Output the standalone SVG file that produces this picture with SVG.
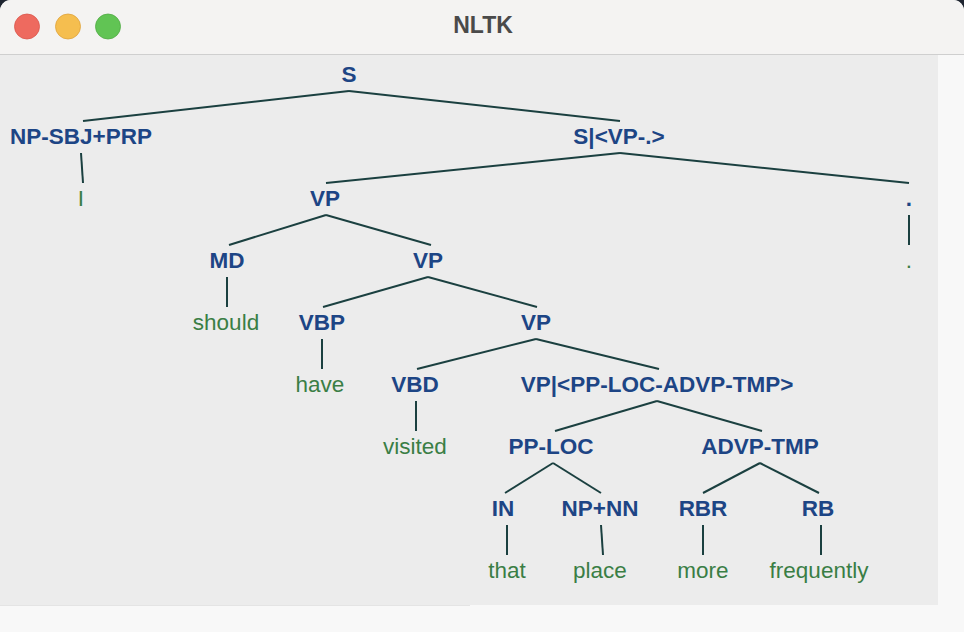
<svg xmlns="http://www.w3.org/2000/svg" width="964" height="632" viewBox="0 0 964 632">
<style>
.nt{font-family:"Liberation Sans",Arial,sans-serif;font-weight:bold;font-size:22.5px;fill:#1d4585;text-anchor:middle}
.lf{font-family:"Liberation Sans",Arial,sans-serif;font-size:22.5px;fill:#3a7e45;text-anchor:middle}
.ln line{stroke:#1b4040;stroke-width:2;stroke-linecap:butt}
</style>
<rect width="964" height="632" fill="#1e2430"/>
<rect x="0" y="0" width="964" height="640" rx="11" fill="#ececec"/>
<path d="M0,54 V11 A11,11 0 0 1 11,0 H953 A11,11 0 0 1 964,11 V54 Z" fill="#f4f3f2"/>
<line x1="0" y1="54.5" x2="964" y2="54.5" stroke="#cfcfcf" stroke-width="1"/>
<rect x="938" y="55" width="26" height="577" fill="#f8f8f8"/>
<rect x="0" y="605" width="964" height="27" fill="#f8f8f8"/>
<line x1="0" y1="605.5" x2="470" y2="605.5" stroke="#e4e4e4" stroke-width="1"/>
<g id="titlebar">
<circle cx="27" cy="26.5" r="12.5" fill="#ee6a5f" stroke="#d9564b" stroke-width="0.8"/>
<circle cx="68" cy="26.5" r="12.5" fill="#f5be4f" stroke="#dea23a" stroke-width="0.8"/>
<circle cx="108" cy="26.5" r="12.5" fill="#61c454" stroke="#4faa42" stroke-width="0.8"/>
<text x="483" y="33" font-family="Liberation Sans,Arial,sans-serif" font-weight="bold" font-size="23" fill="#4a4a4a" text-anchor="middle">NLTK</text>
</g>
<g id="connectors" class="ln">
<line x1="349" y1="91" x2="83" y2="121"/>
<line x1="349" y1="91" x2="620" y2="121"/>
<line x1="81" y1="153" x2="83" y2="183"/>
<line x1="620" y1="153" x2="326" y2="183"/>
<line x1="620" y1="153" x2="909" y2="183"/>
<line x1="909" y1="215" x2="909" y2="245"/>
<line x1="326" y1="215" x2="229" y2="245"/>
<line x1="326" y1="215" x2="431" y2="245"/>
<line x1="227" y1="277" x2="227" y2="307"/>
<line x1="428" y1="277" x2="323" y2="307"/>
<line x1="428" y1="277" x2="537" y2="307"/>
<line x1="322" y1="339" x2="322" y2="369"/>
<line x1="536" y1="339" x2="417" y2="369"/>
<line x1="536" y1="339" x2="659" y2="369"/>
<line x1="416" y1="401" x2="416" y2="431"/>
<line x1="657" y1="401" x2="555" y2="431"/>
<line x1="657" y1="401" x2="762" y2="431"/>
<line x1="553" y1="463" x2="505" y2="493"/>
<line x1="553" y1="463" x2="601" y2="493"/>
<line x1="760" y1="463" x2="703" y2="493"/>
<line x1="760" y1="463" x2="819" y2="493"/>
<line x1="507" y1="525" x2="507" y2="555"/>
<line x1="601" y1="525" x2="603" y2="555"/>
<line x1="703" y1="525" x2="703" y2="555"/>
<line x1="821" y1="525" x2="821" y2="555"/>
</g>
<g id="n-S"><text class="nt" x="349" y="82">S</text></g>
<g id="n-NP-SBJ"><text class="nt" x="81" y="144">NP-SBJ+PRP</text></g>
<g id="n-I"><text class="lf" x="81" y="206">I</text></g>
<g id="n-S-bar"><text class="nt" x="619" y="144">S|&lt;VP-.&gt;</text></g>
<g id="n-VP1"><text class="nt" x="325" y="206">VP</text></g>
<g id="n-dot"><text class="nt" x="909" y="206">.</text></g>
<g id="n-dot-leaf"><text class="lf" x="909" y="268">.</text></g>
<g id="n-MD"><text class="nt" x="227" y="268">MD</text></g>
<g id="n-VP2"><text class="nt" x="428" y="268">VP</text></g>
<g id="n-should"><text class="lf" x="226" y="330">should</text></g>
<g id="n-VBP"><text class="nt" x="322" y="330">VBP</text></g>
<g id="n-VP3"><text class="nt" x="536" y="330">VP</text></g>
<g id="n-have"><text class="lf" x="320" y="392">have</text></g>
<g id="n-VBD"><text class="nt" x="415" y="392">VBD</text></g>
<g id="n-VP-bar"><text class="nt" x="657" y="392">VP|&lt;PP-LOC-ADVP-TMP&gt;</text></g>
<g id="n-visited"><text class="lf" x="415" y="454">visited</text></g>
<g id="n-PP-LOC"><text class="nt" x="551" y="454">PP-LOC</text></g>
<g id="n-ADVP-TMP"><text class="nt" x="760" y="454">ADVP-TMP</text></g>
<g id="n-IN"><text class="nt" x="503" y="516">IN</text></g>
<g id="n-NP-NN"><text class="nt" x="600" y="516">NP+NN</text></g>
<g id="n-RBR"><text class="nt" x="703" y="516">RBR</text></g>
<g id="n-RB"><text class="nt" x="818" y="516">RB</text></g>
<g id="n-that"><text class="lf" x="507" y="578">that</text></g>
<g id="n-place"><text class="lf" x="600" y="578">place</text></g>
<g id="n-more"><text class="lf" x="703" y="578">more</text></g>
<g id="n-frequently"><text class="lf" x="819" y="578">frequently</text></g>
</svg>
